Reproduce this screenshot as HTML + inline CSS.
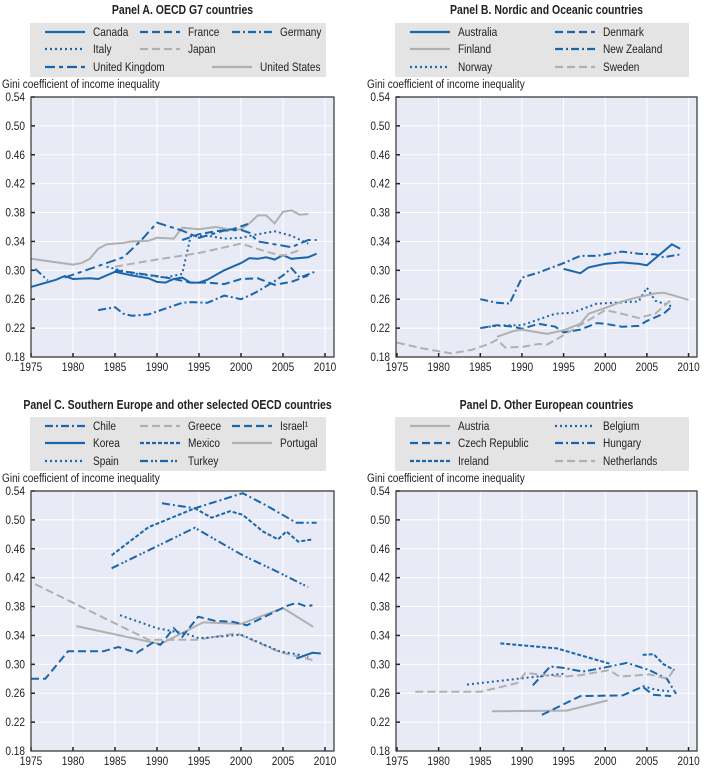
<!DOCTYPE html>
<html><head><meta charset="utf-8">
<style>
html,body{margin:0;padding:0;background:#fff;}
svg{display:block;font-family:"Liberation Sans",sans-serif;}
</style></head>
<body>
<svg id="s" width="706" height="775" xmlns="http://www.w3.org/2000/svg"></svg>
<script>
const S=document.getElementById('s');
let h='';
const B='#1a66ad',G='#b0b0b0';
const DS={solid:'',dash:'8,4',dashdot:'8,3,2,3',dot:'2,3',uk:'10,4,4,4',turkey:'8,3,2,2,2,3',mex:'4,2'};
function T(x,y,s,sz,anc,w){return `<text transform="translate(${x},${y}) scale(0.84,1)" font-size="${sz}" ${anc?`text-anchor="${anc}"`:''} ${w?'font-weight="bold"':''} fill="#222">${s}</text>`;}
function panel(P){
  const {x0,x1,y0,y1,xs,xsc}=P;
  const X=y=>xs+(y-1975)*xsc, Y=v=>y1-(v-0.18)/0.36*(y1-y0);
  h+=T((x0+x1)/2+(P.tdx||0),P.ty,P.title,12.5,'middle',1);
  h+=`<rect x="${P.lx}" y="${P.ly}" width="${P.lw}" height="54" fill="#e4e4e4"/>`;
  P.leg.forEach(l=>{
    h+=`<line x1="${l[0]}" x2="${l[0]+40}" y1="${l[1]}" y2="${l[1]}" stroke="${l[3]}" stroke-width="2.2" stroke-dasharray="${DS[l[4]]}"/>`;
    h+=T(l[0]+48,l[1]+4,l[2],12);
  });
  h+=T(x0-29,y0-9,'Gini coefficient of income inequality',12);
  h+=`<rect x="${x0}" y="${y0}" width="${x1-x0}" height="${y1-y0}" fill="#e8ebf5"/>`;
  for(let yr=1980;yr<=2010;yr+=5){h+=`<line x1="${X(yr)}" x2="${X(yr)}" y1="${y0}" y2="${y1}" stroke="#fff" stroke-width="1"/>`;}
  for(let v=0.22;v<0.54;v+=0.04){h+=`<line x1="${x0}" x2="${x1}" y1="${Y(v)}" y2="${Y(v)}" stroke="#fff" stroke-width="1"/>`;
    h+=`<line x1="${x0}" x2="${x0+4}" y1="${Y(v)}" y2="${Y(v)}" stroke="#222" stroke-width="1.5"/>`;}
  for(let v=0.18;v<0.55;v+=0.04){h+=T(x0-6,Y(v)+4,v.toFixed(2),12,'end');}
  for(let yr=1975;yr<=2010;yr+=5){h+=`<line x1="${X(yr)}" x2="${X(yr)}" y1="${y1}" y2="${y1-4}" stroke="#222" stroke-width="1.5"/>`;
    h+=T(X(yr),y1+14,yr,12,'middle');}
  P.ser.forEach(s=>{
    const d=s.p.map((q,i)=>(i?'L':'M')+X(q[0]).toFixed(1)+','+Y(q[1]).toFixed(1)).join('');
    h+=`<path d="${d}" fill="none" stroke="${s.c}" stroke-width="2" stroke-dasharray="${DS[s.d]}"/>`;
  });
  h+=`<path d="M${x0},${y0}H${x1}V${y1}H${x0}Z" fill="none" stroke="#333" stroke-width="1.2"/>`;
}
panel({x0:31,x1:334,y0:97,y1:357,xs:31,xsc:8.4,ty:14,title:'Panel A. OECD G7 countries',lx:30,ly:23,lw:296,
leg:[[45,32,'Canada',B,'solid'],[140,32,'France',B,'dash'],[232,32,'Germany',B,'dashdot'],[45,49,'Italy',B,'dot'],[140,49,'Japan',G,'dash'],[45,67,'United Kingdom',B,'uk'],[212,67,'United States',G,'solid']],
ser:[
{c:G,d:'solid',p:[[1975,.316],[1980,.308],[1981,.31],[1982,.316],[1983,.33],[1984,.336],[1986,.338],[1987,.34],[1989,.341],[1990,.345],[1992,.344],[1993,.359],[1995,.357],[1997,.36],[1999,.356],[2000,.357],[2001,.365],[2002,.376],[2003,.376],[2004,.365],[2005,.381],[2006,.383],[2007,.377],[2008,.378]]},
{c:B,d:'solid',p:[[1975,.277],[1978,.287],[1979,.292],[1980,.288],[1982,.289],[1983,.288],[1985,.298],[1987,.293],[1989,.289],[1990,.284],[1991,.283],[1992,.288],[1993,.29],[1994,.283],[1995,.283],[1996,.287],[1998,.3],[2000,.31],[2001,.317],[2002,.316],[2003,.318],[2004,.315],[2005,.321],[2006,.316],[2008,.318],[2009,.323]]},
{c:B,d:'dash',p:[[1993,.342],[1995,.35],[1997,.354],[1999,.357],[2001,.365]]},
{c:B,d:'dash',p:[[1985,.30],[1987,.297],[1990,.292],[1992,.288],[1994,.283],[1996,.283],[1998,.281],[2000,.288],[2002,.289],[2004,.28],[2006,.284],[2008,.293]]},
{c:B,d:'dashdot',p:[[1975.5,.302],[1977,.286]]},
{c:B,d:'dashdot',p:[[1983,.245],[1985,.249],[1986,.24],[1987,.237],[1989,.239],[1991,.247],[1993,.255],[1994,.256],[1996,.255],[1997,.26],[1998,.265],[2000,.26],[2001,.265],[2002,.271],[2004,.285],[2005,.293],[2006,.303],[2007,.29],[2009,.299]]},
{c:B,d:'dot',p:[[1984,.305],[1987,.296],[1991,.29],[1993,.295],[1994,.347],[1996,.348],[1998,.344],[2000,.345],[2002,.35],[2004,.354],[2006,.348],[2008,.337]]},
{c:G,d:'dash',p:[[1985,.305],[1990,.315],[1995,.324],[2000,.337],[2003,.326],[2005,.32],[2007,.328]]},
{c:B,d:'uk',p:[[1979,.29],[1983,.306],[1986,.318],[1988,.34],[1990,.366],[1993,.355],[1995,.345],[1998,.355],[2000,.356],[2001,.352],[2002,.34],[2004,.336],[2006,.332],[2008,.342],[2009,.342]]}
]});
panel({x0:396,x1:697,y0:97,y1:357,xs:397,xsc:8.33,ty:14,title:'Panel B. Nordic and Oceanic countries',lx:395,ly:23,lw:294,
leg:[[410,32,'Australia',B,'solid'],[555,32,'Denmark',B,'dash'],[410,49,'Finland',G,'solid'],[555,49,'New Zealand',B,'dashdot'],[410,67,'Norway',B,'dot'],[555,67,'Sweden',G,'dash']],
ser:[
{c:B,d:'solid',p:[[1995,.302],[1997,.296],[1998,.304],[2000,.309],[2002,.311],[2004,.309],[2005,.307],[2008,.336],[2009,.33]]},
{c:B,d:'dashdot',p:[[1985,.26],[1987,.255],[1988.5,.254],[1990,.29],[1992,.297],[1995,.31],[1997,.32],[1999,.32],[2002,.326],[2004,.323],[2006,.322],[2007,.318],[2009,.322]]},
{c:B,d:'dash',p:[[1985,.22],[1987,.224],[1989,.222],[1990,.219],[1992,.226],[1994,.222],[1995,.214],[1997,.218],[1999,.227],[2000,.226],[2002,.222],[2004,.223],[2005,.23],[2007,.24],[2008,.25]]},
{c:B,d:'dot',p:[[1986,.222],[1988,.224],[1990,.224],[1992,.232],[1994,.24],[1996,.241],[1999,.254],[2001,.255],[2004,.257],[2005,.276],[2006,.258],[2008,.25]]},
{c:G,d:'solid',p:[[1987,.208],[1989,.216],[1990,.218],[1993,.212],[1995,.217],[1997,.226],[1998,.24],[2000,.248],[2002,.257],[2004,.263],[2006,.268],[2007,.269],[2008,.266],[2010,.259]]},
{c:G,d:'dash',p:[[1975,.20],[1978,.192],[1980,.188],[1981.5,.185],[1984,.19],[1986,.198],[1987,.204],[1988,.193],[1990,.194],[1992,.198],[1993,.197],[1995,.21],[1997,.224],[1999,.238],[2000,.245],[2002,.24],[2004,.234],[2006,.24],[2008,.26]]}
]});
panel({x0:31,x1:334,y0:491,y1:751,xs:31,xsc:8.4,ty:409,tdx:-5,title:'Panel C. Southern Europe and other selected OECD countries',lx:30,ly:417,lw:296,
leg:[[45,426,'Chile',B,'dashdot'],[140,426,'Greece',G,'dash'],[232,426,'Israel\u00b9',B,'dash'],[45,443,'Korea',B,'solid'],[140,443,'Mexico',B,'mex'],[232,443,'Portugal',G,'solid'],[45,461,'Spain',B,'dot'],[140,461,'Turkey',B,'turkey']],
ser:[
{c:B,d:'dashdot',p:[[1990.6,.523],[1994.5,.516],[2000.2,.537],[2003,.52],[2006.6,.496],[2009,.496]]},
{c:B,d:'mex',p:[[1984.6,.451],[1989,.49],[1994.5,.516],[1996.5,.503],[1998.7,.512],[2000.2,.507],[2002.6,.484],[2004.4,.473],[2005.4,.484],[2006.8,.47],[2008.5,.473]]},
{c:B,d:'turkey',p:[[1984.6,.433],[1994.5,.489],[2000.2,.451],[2004,.43],[2008,.407]]},
{c:G,d:'dash',p:[[1975.5,.411],[1989,.334],[1994.8,.334],[1999.5,.343],[2004.6,.317],[2008.5,.306]]},
{c:G,d:'solid',p:[[1980.4,.353],[1990.4,.328],[1995.5,.358],[2000,.356],[2005,.378],[2008.6,.352]]},
{c:B,d:'dot',p:[[1985.6,.368],[1990,.35],[1993.6,.342],[1995,.336],[2000,.341],[2004.6,.318],[2006.6,.314],[2008,.31]]},
{c:B,d:'solid',p:[[2006.6,.308],[2008.5,.316],[2009.5,.315]]},
{c:B,d:'dash',p:[[1975,.28],[1976.7,.28],[1979.4,.318],[1983.6,.318],[1985.4,.324],[1987.6,.316],[1989.5,.33],[1990.4,.327],[1992,.35],[1993,.338],[1994.9,.366],[1997,.36],[1999,.359],[2000.7,.354],[2003.2,.368],[2005.5,.381],[2006.6,.385],[2007.8,.38],[2008.5,.382]]}
]});
panel({x0:396,x1:697,y0:491,y1:751,xs:397,xsc:8.33,ty:409,title:'Panel D. Other European countries',lx:395,ly:417,lw:294,
leg:[[410,426,'Austria',G,'solid'],[555,426,'Belgium',B,'dot'],[410,443,'Czech Republic',B,'dash'],[555,443,'Hungary',B,'dashdot'],[410,461,'Ireland',B,'mex'],[555,461,'Netherlands',G,'dash']],
ser:[
{c:B,d:'mex',p:[[1987.4,.329],[1994.2,.322],[2000.5,.301]]},
{c:B,d:'dot',p:[[1983.4,.272],[1991.8,.283],[1995,.287]]},
{c:B,d:'mex',p:[[2004.5,.313],[2005.8,.314],[2007,.30],[2008.3,.292]]},
{c:B,d:'dashdot',p:[[1991.3,.271],[1993.4,.297],[1995,.295],[1997.3,.29],[1999.7,.295],[2002.6,.302],[2005.3,.292],[2007.4,.28],[2008.5,.259]]},
{c:G,d:'dash',p:[[1977.2,.262],[1985,.262],[1989.4,.274],[1990.4,.288],[1993,.285],[1995,.283],[1997,.285],[2000.5,.292],[2001.7,.283],[2005.3,.286],[2007.5,.28],[2008.3,.294]]},
{c:G,d:'solid',p:[[1986.4,.235],[1995.4,.236],[2000.3,.25]]},
{c:B,d:'dash',p:[[1992.4,.23],[1997,.256],[2002.1,.257],[2004.5,.269],[2005.7,.258],[2007.9,.256]]},
{c:B,d:'dot',p:[[2004.5,.27],[2006,.265],[2008,.262]]}
]});
S.innerHTML=h;
</script>
</body></html>
